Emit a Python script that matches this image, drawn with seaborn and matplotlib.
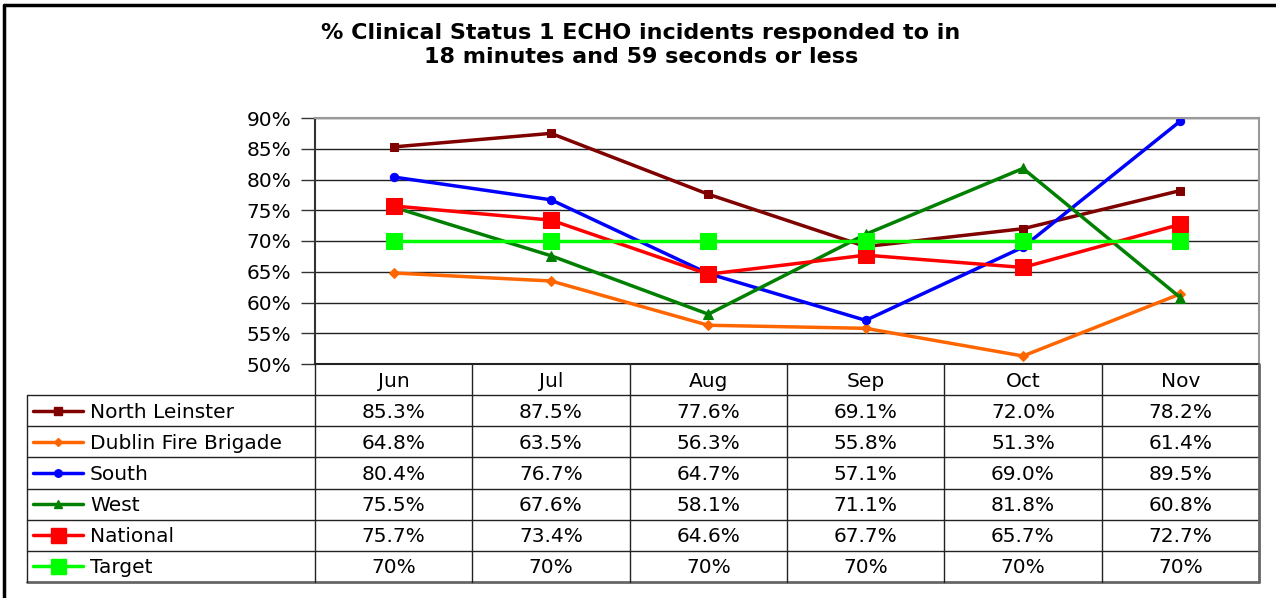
import numpy as np
import pandas as pd
import matplotlib
matplotlib.use("Agg")
import matplotlib.pyplot as plt
import seaborn as sns
from matplotlib.lines import Line2D

# Data
months = ["Jun", "Jul", "Aug", "Sep", "Oct", "Nov"]
north_leinster = [85.3, 87.5, 77.6, 69.1, 72.0, 78.2]
dublin_fire = [64.8, 63.5, 56.3, 55.8, 51.3, 61.4]
south = [80.4, 76.7, 64.7, 57.1, 69.0, 89.5]
west = [75.5, 67.6, 58.1, 71.1, 81.8, 60.8]
national = [75.7, 73.4, 64.6, 67.7, 65.7, 72.7]
target = [70, 70, 70, 70, 70, 70]

series_names = ["North Leinster", "Dublin Fire Brigade", "South", "West", "National", "Target"]
series_vals = [north_leinster, dublin_fire, south, west, national, target]
colors = ["#800000", "#FF6600", "#0000FF", "#008000", "#FF0000", "#00FF00"]
markers = ["s", "D", "o", "^", "s", "s"]
msizes = [6, 5, 6, 7, 12, 12]

sns.set_theme(style="white")
plt.rcParams["font.family"] = ["DejaVu Sans"]
plt.rcParams["text.color"] = "black"
plt.rcParams["ytick.labelcolor"] = "black"
FS = 14.5

W, H = 1276, 598
fig = plt.figure(figsize=(W / 100, H / 100), dpi=100)

def fx(px):
    return px / W

def fy(py):
    return 1 - py / H

# figure frame (top and left)
fig.add_artist(Line2D([fx(4), fx(1276)], [fy(5), fy(5)], color="black", lw=2.5))
fig.add_artist(Line2D([fx(4), fx(4)], [fy(5), fy(598)], color="black", lw=2.5))

fig.text(fx(641), fy(45), "% Clinical Status 1 ECHO incidents responded to in\n18 minutes and 59 seconds or less",
         ha="center", va="center", fontsize=16, fontweight="bold", linespacing=1.25, color="black")

# main plot area
L, R, T, B = 315, 1259, 118, 364
ax = fig.add_axes([fx(L), fy(B), fx(R) - fx(L), fy(T) - fy(B)])
x = np.arange(len(months))
for name, vals, c, m, ms in zip(series_names, series_vals, colors, markers, msizes):
    df = pd.DataFrame({"x": x, "y": vals})
    sns.lineplot(data=df, x="x", y="y", ax=ax, color=c, marker=m, markersize=ms,
                 markeredgecolor=c, linewidth=2.5, legend=False)

ax.set_xlim(-0.5, len(months) - 0.5)
ax.set_ylim(50, 90)
ax.set_yticks(np.arange(50, 91, 5))
ax.set_yticklabels([f"{v}%" for v in range(50, 91, 5)], fontsize=FS, color="black")
ax.set_xticks([])
ax.set_xlabel("")
ax.set_ylabel("")
ax.grid(axis="y", color="#222222", lw=1)
ax.set_axisbelow(True)
ax.tick_params(axis="y", left=True, length=10, width=1, color="#333333", pad=7)
for s in ["top", "right"]:
    ax.spines[s].set_color("#999999")
    ax.spines[s].set_linewidth(1.5)
ax.spines["left"].set_color("#333333")
ax.spines["left"].set_linewidth(1.5)
ax.spines["bottom"].set_visible(False)

# data table below the plot
TL, TB = 27, 582
tab = fig.add_axes([fx(TL), fy(TB), fx(R) - fx(TL), fy(B) - fy(TB)])
colw = (R - L) / len(months)
x_left = -0.5 - (L - TL) / colw
tab.set_xlim(x_left, len(months) - 0.5)
nrows = len(series_names) + 1
tab.set_ylim(nrows, 0)
tab.axis("off")

lc = "#222222"
# horizontal lines
tab.plot([-0.5, len(months) - 0.5], [0, 0], color=lc, lw=1.5, clip_on=False)
for r in range(1, nrows + 1):
    tab.plot([x_left, len(months) - 0.5], [r, r], color=lc if r < nrows else "#666666",
             lw=1 if r < nrows else 2, clip_on=False)
# vertical lines
tab.plot([x_left, x_left], [1, nrows], color=lc, lw=1, clip_on=False)
for k in range(len(months) + 1):
    xv = -0.5 + k
    tab.plot([xv, xv], [0, nrows], color=lc if k < len(months) else "#666666",
             lw=1 if k < len(months) else 2, clip_on=False)

for i, mth in enumerate(months):
    tab.text(i, 0.55, mth, ha="center", va="center", fontsize=FS)

for r, (name, vals, c, m, ms) in enumerate(zip(series_names, series_vals, colors, markers, msizes), start=1):
    for i, v in enumerate(vals):
        lbl = f"{v:.0f}%" if name == "Target" else f"{v:.1f}%"
        tab.text(i, r + 0.55, lbl, ha="center", va="center", fontsize=FS)
    tab.text(x_left + 63 / colw, r + 0.55, name, ha="left", va="center", fontsize=FS)
    key_x = [x_left + 6 / colw, x_left + 56 / colw]
    tab.plot(key_x, [r + 0.5, r + 0.5], color=c, lw=2.5)
    tab.plot([np.mean(key_x)], [r + 0.5], marker=m, color=c, markersize=ms * 0.9,
             markeredgecolor=c)

fig.savefig("out.png", dpi=100)
